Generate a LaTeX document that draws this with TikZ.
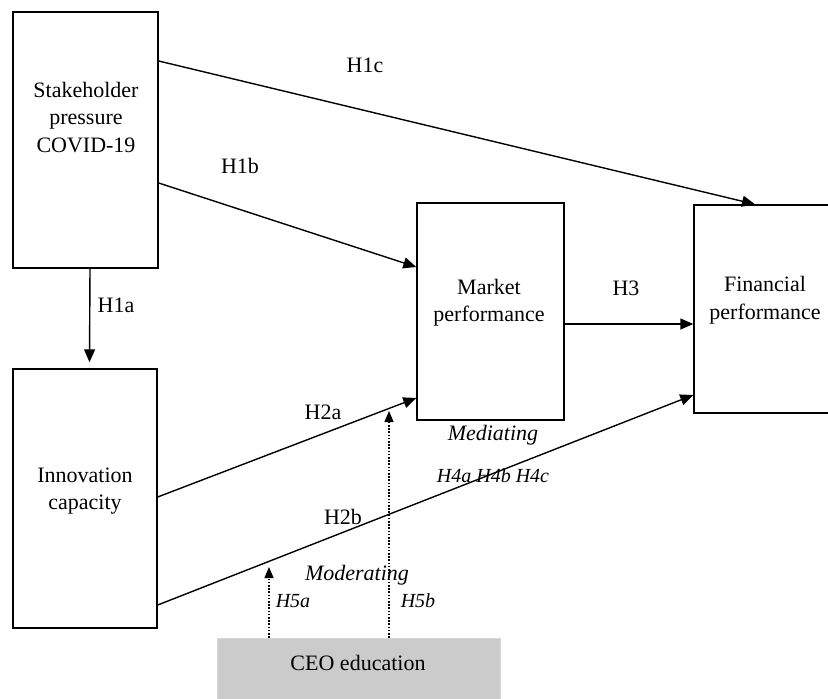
\documentclass[tikz,border=0pt]{standalone}
\usepackage{fontspec}
\setmainfont{Liberation Serif}
\usetikzlibrary{arrows.meta,calc}
\begin{document}
\begin{tikzpicture}[x=1pt,y=-1pt,
  box/.style={draw=black,line width=1.4pt,rectangle,inner sep=0pt},
  txt/.style={align=center,inner sep=0pt,font=\fontsize{22}{27.5}\selectfont},
  lab/.style={inner sep=0pt,font=\fontsize{22}{26}\selectfont},
  ilab/.style={inner sep=0pt,font=\fontsize{22}{26}\selectfont\itshape},
  slab/.style={inner sep=0pt,font=\fontsize{20}{24}\selectfont\itshape},
  arr/.style={line width=1.4pt,-{Triangle[length=13pt,width=11pt]}},
  darr/.style={line width=1.3pt,dash pattern=on 1.6pt off 1.6pt,-{Triangle[length=11pt,width=9pt]}}]
\useasboundingbox (0,0) rectangle (828,699);
\clip (0,0) rectangle (828,699);
\fill[white] (0,0) rectangle (828,699);
% boxes
\node[box,minimum width=145pt,minimum height=256pt] (sp) at (85.5,140) {};
\node[box,minimum width=144pt,minimum height=259pt] (ic) at (85,498.5) {};
\node[box,minimum width=147pt,minimum height=217pt] (mp) at (490.5,311.5) {};
\node[box,minimum width=142pt,minimum height=208pt] (fp) at (765,309) {};
\node[fill={rgb,255:red,203;green,203;blue,203},draw={rgb,255:red,215;green,215;blue,215},line width=0.5pt,inner sep=0pt,minimum width=283pt,minimum height=70pt] (ceo) at (358.5,673) {};
% box texts
\node[txt] (spt) at (86,117.5) {Stakeholder\\pressure\\COVID-19};
\node[txt] (ict) at (85,491) {Innovation\\capacity};
\node[txt] (mpt) at (489,302.5) {Market\\performance};
\node[txt] (fpt) at (765,300) {Financial\\performance};
\node[lab] (ceot) at (358,663) {CEO education};
% connectors
\draw[arr] ([xshift=4.5pt]sp.south) -- ([xshift=4.5pt,yshift=6pt]ic.north);
\draw[arr] ([yshift=79pt]sp.east) -- ([xshift=-10pt]fp.north);
\draw[arr] ([yshift=-43pt]sp.east) -- ([yshift=44.5pt]mp.west);
\draw[arr] ([yshift=-12.5pt]mp.east) coordinate (h3s) -- (h3s -| fp.west);
\draw[arr] ([yshift=1.5pt]ic.east) -- ([yshift=-86.5pt]mp.west);
\draw[arr] ([yshift=-106.5pt]ic.east) -- ([yshift=-86pt]fp.west);
\coordinate (h5aend) at (269,567);
\coordinate (h5bend) at (389,411);
\draw[darr] ([xshift=-89.5pt]ceo.north) -- (h5aend);
\draw[darr] ([xshift=30.5pt]ceo.north) -- (h5bend);
% labels
\node[lab] (l1c) at (365,65) {H1c};
\node[lab] (l1b) at (240,166) {H1b};
\node[lab] (l1a) at (116,305) {H1a};
\node[lab] (l3) at (626,288) {H3};
\node[lab] (l2a) at (323,412) {H2a};
\node[lab] (l2b) at (343,517) {H2b};
\node[ilab] (lmed) at (493,435) {Mediating};
\node[slab] (l4) at (493,476) {H4a H4b H4c};
\node[ilab] (lmod) at (357,575) {Moderating};
\node[slab] (l5a) at (293,601) {H5a};
\node[slab] (l5b) at (418,601) {H5b};
\end{tikzpicture}
\end{document}
